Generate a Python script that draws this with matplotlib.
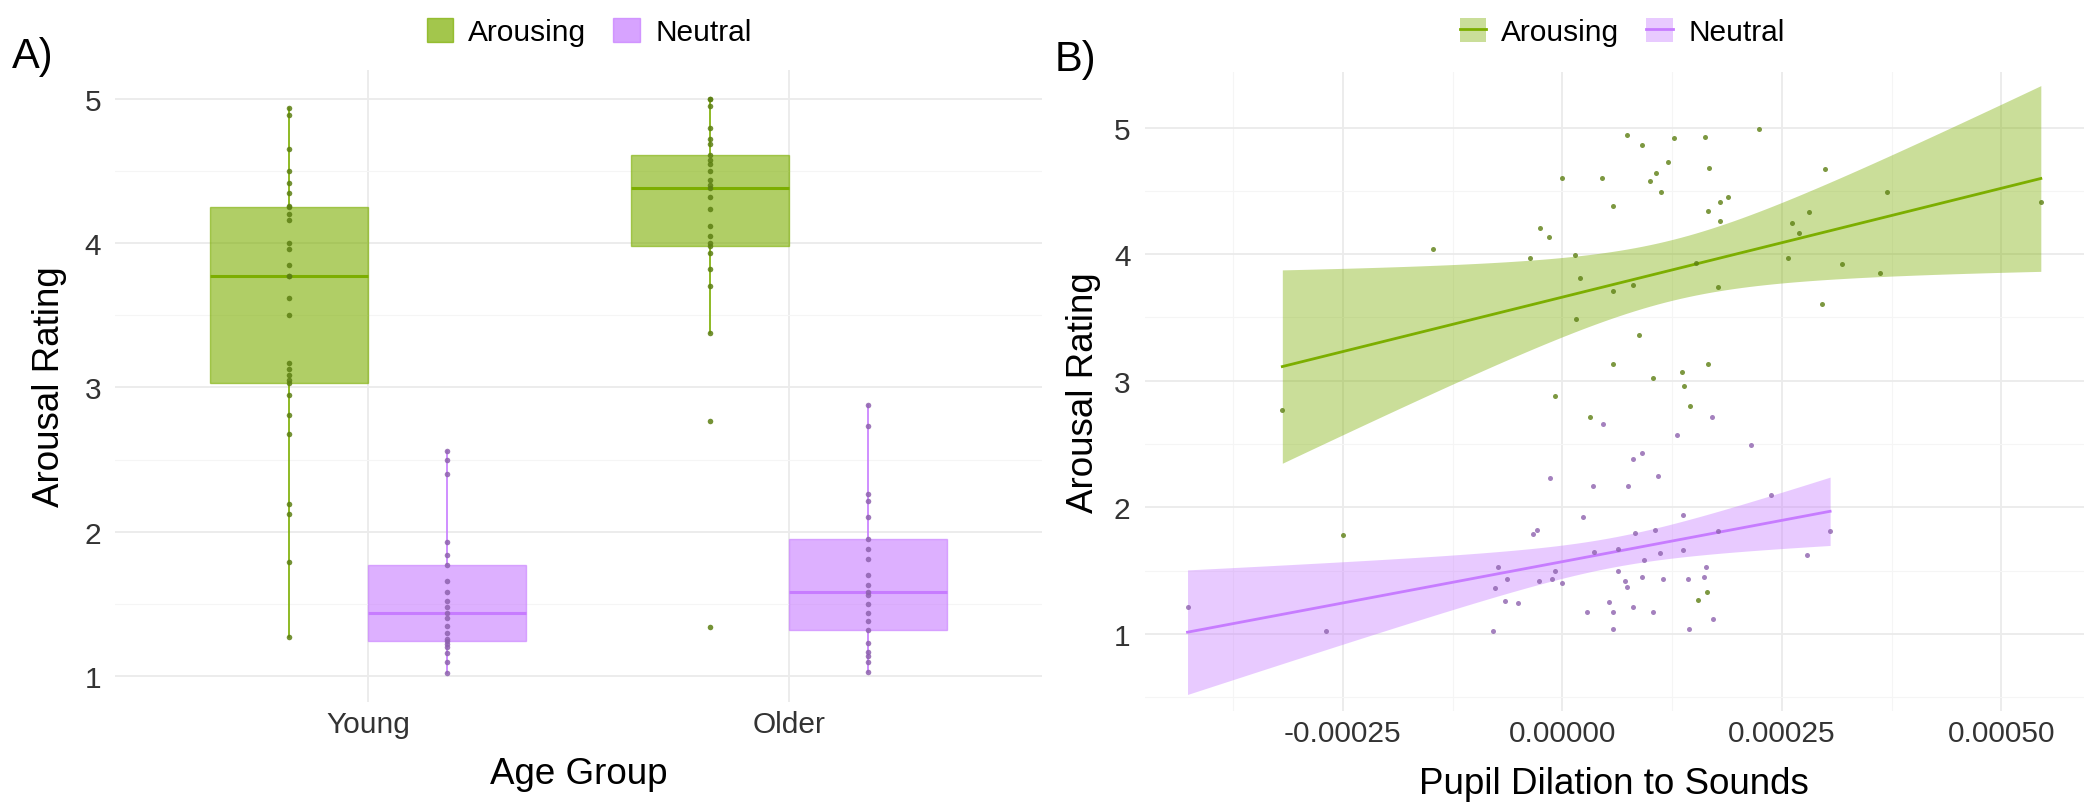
import numpy as np
import matplotlib.pyplot as plt
from matplotlib.patches import Patch
from matplotlib.lines import Line2D

plt.rcParams['font.family'] = ['Liberation Sans', 'DejaVu Sans']

GREEN = '#7CAE00'
PURPLE = '#C77CFF'
GREEN_PT = '#5C7F12'
PURPLE_PT = '#8E62AE'

# --- panel A: arousal ratings per age group ---
age_groups = ['Young', 'Older']
young_arousing = [1.27, 1.79, 2.12, 2.19, 2.68, 2.81, 2.95, 3.03, 3.05, 3.09, 3.13, 3.17, 3.50, 3.62, 3.77,
                  3.77, 3.85, 3.96, 4.00, 4.16, 4.20, 4.25, 4.26, 4.35, 4.42, 4.50, 4.65, 4.89, 4.94]
older_arousing = [1.34, 2.77, 3.38, 3.70, 3.82, 3.93, 3.98, 4.00, 4.05, 4.12, 4.24, 4.32, 4.38, 4.40, 4.44,
                  4.50, 4.55, 4.58, 4.61, 4.69, 4.72, 4.80, 4.95, 5.00, 5.00]
young_neutral = [1.02, 1.10, 1.16, 1.20, 1.22, 1.24, 1.26, 1.30, 1.35, 1.40, 1.44, 1.48, 1.52, 1.58, 1.66,
                 1.77, 1.84, 1.93, 2.40, 2.50, 2.56]
older_neutral = [1.03, 1.10, 1.14, 1.17, 1.23, 1.32, 1.38, 1.44, 1.50, 1.56, 1.58, 1.63, 1.70, 1.81, 1.88,
                 1.95, 2.10, 2.21, 2.26, 2.73, 2.88]

# --- panel B: pupil dilation vs arousal rating ---
arousing_pupil = [-0.000319, -0.000250, -0.000147, -0.000037, -0.0000256, -0.000015, -0.0000085, 0.0,
                  0.0000142, 0.000016, 0.000020, 0.0000313, 0.0000446, 0.0000572, 0.0000579, 0.0000572,
                  0.0000731, 0.0000806, 0.0000875, 0.0000902, 0.000100, 0.000103, 0.000107, 0.000112,
                  0.000120, 0.000127, 0.000136, 0.000138, 0.000145, 0.000152, 0.000155, 0.000162,
                  0.000165, 0.000166, 0.000166, 0.000167, 0.000177, 0.000179, 0.000179, 0.000189,
                  0.000224, 0.000257, 0.000262, 0.000269, 0.000281, 0.000296, 0.000299, 0.000319,
                  0.000362, 0.000370, 0.000545]
arousing_rating = [2.77, 1.78, 4.04, 3.97, 4.21, 4.14, 2.88, 4.60,
                   3.99, 3.49, 3.81, 2.71, 4.60, 4.38, 3.71, 3.13,
                   4.94, 3.76, 3.36, 4.86, 4.58, 3.02, 4.64, 4.49,
                   4.73, 4.92, 3.07, 2.96, 2.80, 3.93, 1.27, 4.93,
                   1.33, 4.34, 3.13, 4.68, 3.74, 4.41, 4.26, 4.45,
                   4.99, 3.97, 4.25, 4.17, 4.33, 3.61, 4.67, 3.92,
                   3.85, 4.49, 4.41]
neutral_pupil = [-0.000427, -0.000269, -0.0000795, -0.0000769, -0.0000731, -0.0000655, -0.0000629,
                 -0.0000503, -0.0000333, -0.0000294, -0.0000264, -0.0000142, -0.0000123, -0.0000085,
                 -0.0000009, 0.0000237, 0.0000283, 0.0000344, 0.0000359, 0.0000465, 0.0000533,
                 0.0000572, 0.0000579, 0.0000636, 0.0000636, 0.0000712, 0.0000738, 0.0000749, 0.000080,
                 0.0000806, 0.0000826, 0.0000902, 0.0000902, 0.0000928, 0.000103, 0.000105, 0.000109,
                 0.000111, 0.000115, 0.000131, 0.000137, 0.000137, 0.000143, 0.000144, 0.000161,
                 0.000164, 0.000171, 0.000172, 0.000177, 0.000215, 0.000238, 0.000279, 0.000305]
neutral_rating = [1.21, 1.02, 1.02, 1.36, 1.53, 1.26, 1.43,
                  1.24, 1.79, 1.82, 1.42, 2.23, 1.43, 1.50,
                  1.40, 1.92, 1.17, 2.17, 1.65, 2.66, 1.25,
                  1.17, 1.04, 1.67, 1.50, 1.42, 1.37, 2.17, 2.38,
                  1.21, 1.80, 2.43, 1.45, 1.58, 1.17, 1.82, 2.25,
                  1.64, 1.43, 2.57, 1.94, 1.66, 1.43, 1.04, 1.45,
                  1.53, 2.71, 1.12, 1.81, 2.49, 2.10, 1.62, 1.81]


def ols_band(x, y, grid):
    x = np.asarray(x)
    y = np.asarray(y)
    n = len(x)
    b1, b0 = np.polyfit(x, y, 1)
    fit = b0 + b1 * grid
    s = np.sqrt(np.sum((y - (b0 + b1 * x)) ** 2) / (n - 2))
    se = s * np.sqrt(1 / n + (grid - x.mean()) ** 2 / np.sum((x - x.mean()) ** 2))
    df = n - 2
    z = 1.959964
    t = z + (z**3 + z) / (4 * df) + (5 * z**5 + 16 * z**3 + 3 * z) / (96 * df**2)
    return fit, fit - t * se, fit + t * se


def style_axes(ax):
    for sp in ax.spines.values():
        sp.set_visible(False)
    ax.tick_params(length=0, labelsize=21.5, labelcolor='#333333')
    ax.grid(True, which='major', color='#EBEBEB', lw=1.3, zorder=0)
    ax.grid(True, which='minor', color='#F5F5F5', lw=0.8, zorder=0)
    ax.set_axisbelow(True)


fig = plt.figure(figsize=(21, 8.04), dpi=100)

# ---------------- A) boxplots ----------------
axL = fig.add_axes([0.0548, 0.1256, 0.4414, 0.786])
style_axes(axL)
w = 0.375
sets = [(young_arousing, 0 - w / 2, GREEN, GREEN_PT), (young_neutral, 0 + w / 2, PURPLE, PURPLE_PT),
        (older_arousing, 1 - w / 2, GREEN, GREEN_PT), (older_neutral, 1 + w / 2, PURPLE, PURPLE_PT)]
for vals, pos, col, pcol in sets:
    axL.boxplot(vals, positions=[pos], widths=w, patch_artist=True, showfliers=False, showcaps=False,
                boxprops=dict(facecolor=col, alpha=0.6, edgecolor=col, lw=1.0),
                whiskerprops=dict(color=col, lw=1.2),
                medianprops=dict(color=col, lw=2.2), manage_ticks=False, zorder=2)
    axL.scatter([pos] * len(vals), vals, s=16, color=pcol, alpha=0.85, lw=0, zorder=3)

axL.set_xlim(-0.6, 1.6)
axL.set_ylim(0.82, 5.2)
axL.set_xticks([0, 1])
axL.set_xticklabels(age_groups)
axL.set_yticks([1, 2, 3, 4, 5])
axL.set_yticks([1.5, 2.5, 3.5, 4.5], minor=True)
axL.tick_params(axis='x', pad=6)
axL.tick_params(axis='y', pad=10)
axL.tick_params(which='minor', length=0)
axL.set_xlabel('Age Group', fontsize=26.5)
axL.set_ylabel('Arousal Rating', fontsize=26.5)
axL.xaxis.set_label_coords(0.5, -0.085)
axL.yaxis.set_label_coords(-0.052, 0.5)

# ---------------- B) regression ----------------
axR = fig.add_axes([0.545, 0.1144, 0.4473, 0.7948])
style_axes(axR)
for xs, ys, col, pcol in [(arousing_pupil, arousing_rating, GREEN, GREEN_PT),
                          (neutral_pupil, neutral_rating, PURPLE, PURPLE_PT)]:
    grid = np.linspace(min(xs), max(xs), 100)
    fit, lo, hi = ols_band(xs, ys, grid)
    axR.fill_between(grid, lo, hi, color=col, alpha=0.4, lw=0, zorder=1)
    axR.plot(grid, fit, color=col, lw=2.0, zorder=2)
    axR.scatter(xs, ys, s=13, color=pcol, alpha=0.8, lw=0, zorder=3)

xt = [-0.00025, 0.0, 0.00025, 0.0005]
axR.set_xticks(xt)
axR.set_xticklabels(['%.5f' % v for v in xt])
axR.set_xticks([-0.000375, -0.000125, 0.000125, 0.000375], minor=True)
axR.set_yticks([1, 2, 3, 4, 5])
axR.set_yticks([0.5, 1.5, 2.5, 3.5, 4.5], minor=True)
axR.tick_params(which='minor', length=0)
axR.tick_params(axis='x', pad=6)
axR.tick_params(axis='y', pad=10)
axR.set_xlim(-0.000476, 0.000594)
axR.set_ylim(0.39, 5.44)
axR.set_xlabel('Pupil Dilation to Sounds', fontsize=26.5)
axR.set_ylabel('Arousal Rating', fontsize=26.5)
axR.xaxis.set_label_coords(0.5, -0.086)
axR.yaxis.set_label_coords(-0.046, 0.5)

# legends
leg_kw = dict(loc='center', ncol=2, frameon=False, fontsize=21.5, handlelength=0.9, handleheight=0.9,
              handletextpad=0.5, columnspacing=0.9)
hL = [Patch(facecolor=GREEN, alpha=0.7, edgecolor=GREEN), Patch(facecolor=PURPLE, alpha=0.7, edgecolor=PURPLE)]
fig.legend(hL, ['Arousing', 'Neutral'], bbox_to_anchor=(589 / 2100, 1 - 33 / 804), **leg_kw)
hR = [(Patch(facecolor=GREEN, alpha=0.4, lw=0), Line2D([], [], color=GREEN, lw=2)),
      (Patch(facecolor=PURPLE, alpha=0.4, lw=0), Line2D([], [], color=PURPLE, lw=2))]
fig.legend(hR, ['Arousing', 'Neutral'], bbox_to_anchor=(1622 / 2100, 1 - 33 / 804), **leg_kw)

fig.text(33 / 2100, 1 - 57 / 804, 'A)', fontsize=30, ha='center', va='center')
fig.text(1075 / 2100, 1 - 60 / 804, 'B)', fontsize=30, ha='center', va='center')

fig.savefig('out.png', dpi=100)
